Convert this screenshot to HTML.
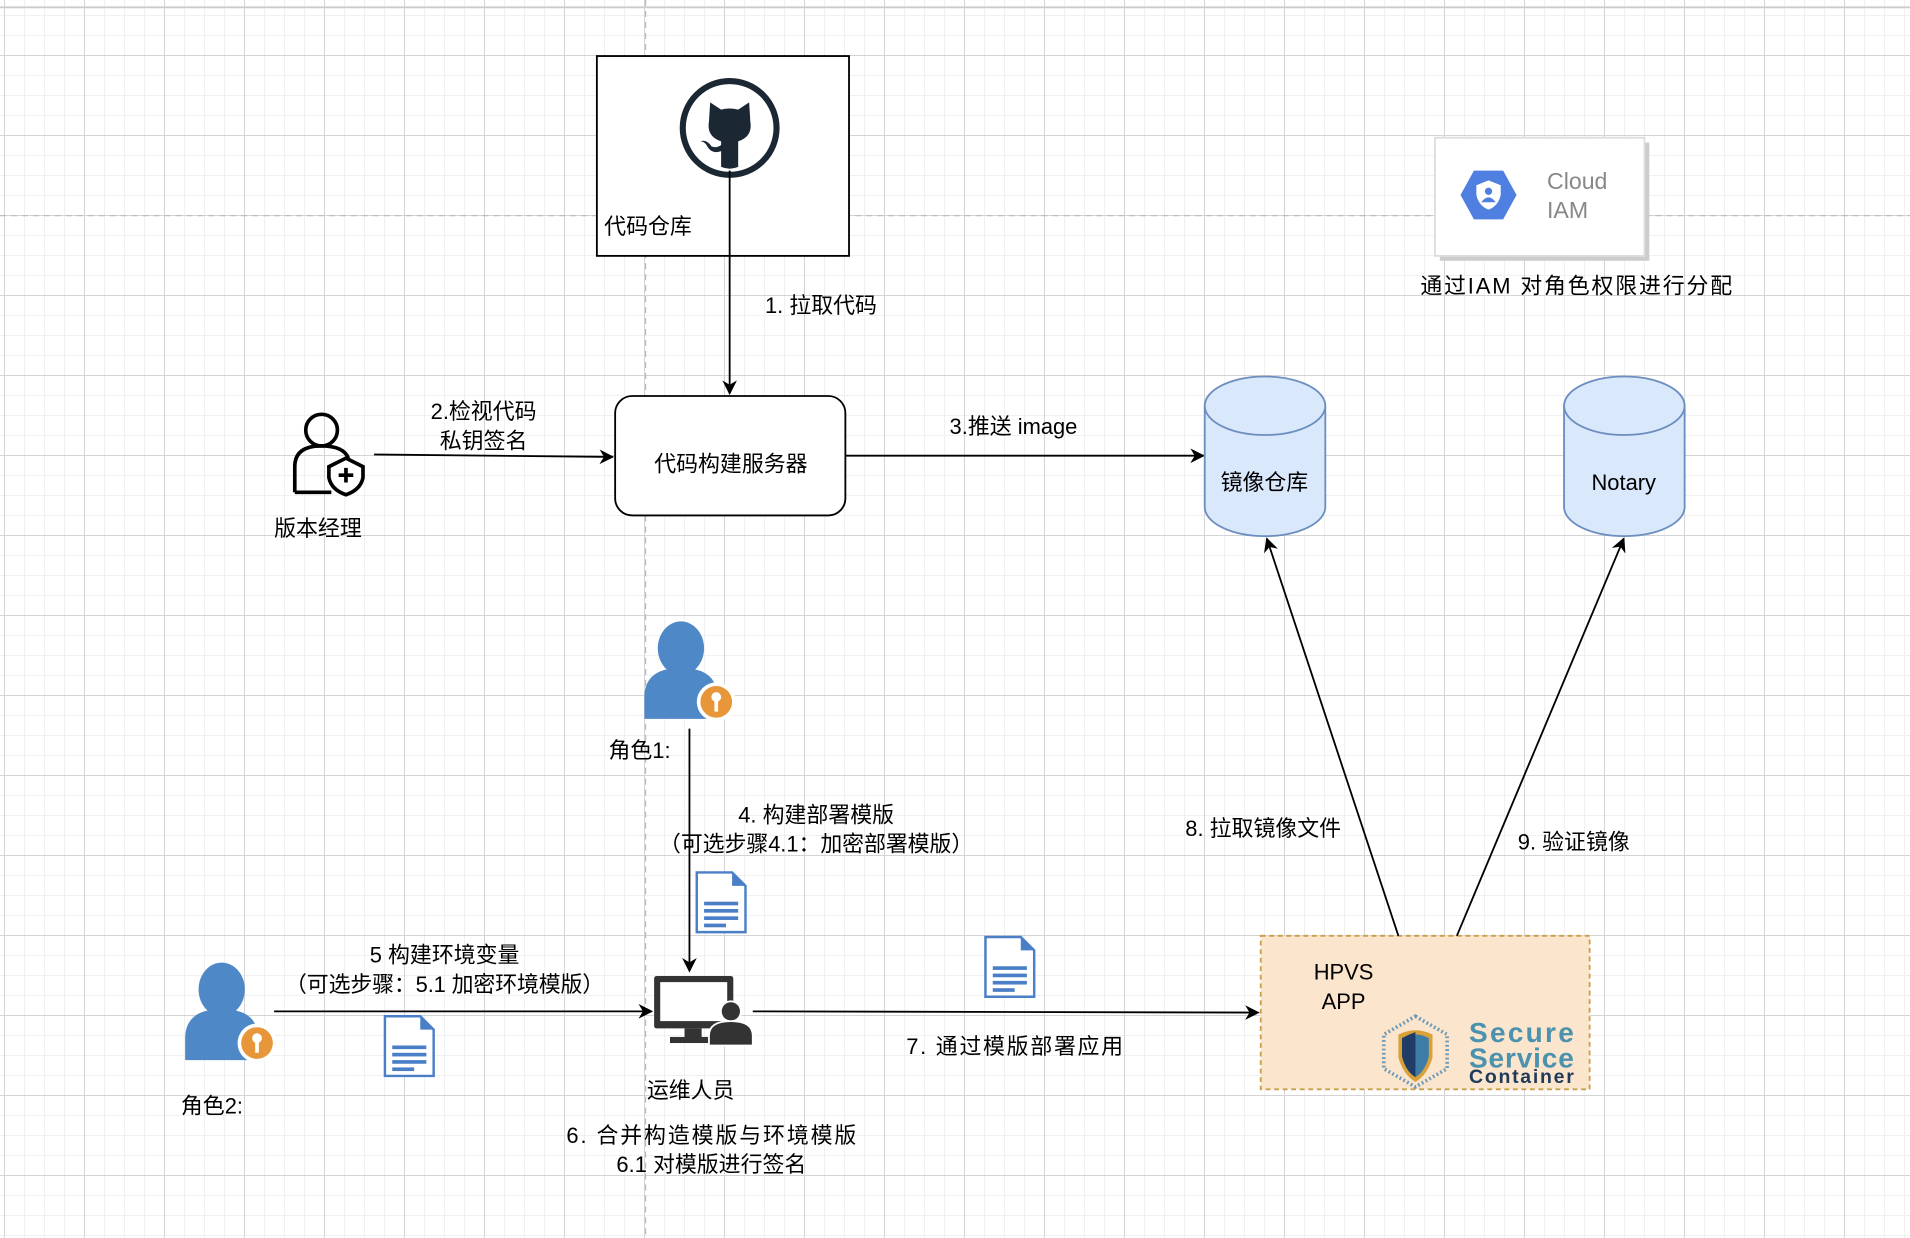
<!DOCTYPE html>
<html><head><meta charset="utf-8"><style>
html,body{margin:0;padding:0;}
body{width:1910px;height:1238px;overflow:hidden;background:#fff;position:relative;
background-image:
linear-gradient(#d4d4d4 1px,transparent 1px),
linear-gradient(90deg,#d4d4d4 1px,transparent 1px),
linear-gradient(#f0f0f0 1px,transparent 1px),
linear-gradient(90deg,#f0f0f0 1px,transparent 1px);
background-size:80px 80px,80px 80px,20px 20px,20px 20px;
background-position:0 55px,4px 0,0 15px,4px 0;}
svg{position:absolute;left:0;top:0;}
text{font-family:"Liberation Sans","Noto Sans CJK SC",sans-serif;fill:#000;}
</style></head><body>
<svg width="1910" height="1238" viewBox="0 0 1568 1016" preserveAspectRatio="none">
<defs>
<marker id="ar" viewBox="0 0 10 10" refX="9" refY="5" markerWidth="12" markerHeight="12" markerUnits="userSpaceOnUse" orient="auto">
<path d="M0,0 L10,5 L0,10 L3,5 Z" fill="#000"/></marker>
<g id="bp">
<ellipse cx="31" cy="22" rx="19" ry="22" fill="#4f88c6"/>
<path d="M1 80 V62 C1 46 12 40 22 39 Q31 45 40 39 C50 40 61 46 61 62 V80 Z" fill="#4f88c6"/>
<circle cx="60" cy="66" r="16" fill="#fff"/>
<circle cx="60" cy="66" r="13" fill="#e8963a"/>
<circle cx="60" cy="62" r="4" fill="#fff"/>
<rect x="58.5" y="63" width="3" height="11" fill="#fff"/>
</g>
<g id="doc">
<path d="M1 1 H30 L41 12 V50 H1 Z" fill="#fff" stroke="#4a7fc8" stroke-width="2"/>
<path d="M30 1 V12 H41 Z" fill="#4a7fc8"/>
<rect x="7" y="25" width="28" height="3" fill="#4a7fc8"/>
<rect x="7" y="31" width="28" height="3" fill="#4a7fc8"/>
<rect x="7" y="37" width="28" height="3" fill="#4a7fc8"/>
<rect x="7" y="43" width="18" height="3" fill="#4a7fc8"/>
</g>
</defs>
<line x1="0" y1="6" x2="1568" y2="6" stroke="#ccc" stroke-width="1.5"/>
<line x1="0" y1="177" x2="1568" y2="177" stroke="#bbb" stroke-dasharray="5,4"/>
<line x1="530" y1="0" x2="530" y2="1016" stroke="#bbb" stroke-dasharray="5,4"/>

<!-- github box -->
<rect x="490" y="46" width="207" height="164" fill="#fff" stroke="#000" stroke-width="1.5"/>
<circle cx="599" cy="105" r="38.5" fill="#fff" stroke="#1b2733" stroke-width="5"/>
<path d="M582 100 L583 84 L592 90 Q599 88 606 90 L615 84 L616 100 Q618 112 606 116 V137 Q599 140 592 137 V124 Q584 127 580 119 Q578 116 575 116 Q580 114 584 120 Q588 122 592 119 V116 Q580 112 582 100 Z" fill="#1b2733"/>
<text x="496" y="192" font-size="18">代码仓库</text>
<line x1="599" y1="140" x2="599" y2="323" stroke="#000" stroke-width="1.5" marker-end="url(#ar)"/>
<text x="628" y="257" font-size="18">1. 拉取代码</text>

<rect x="505" y="325" width="189" height="98" rx="14" fill="#fff" stroke="#000" stroke-width="1.5"/>
<text x="600" y="387" font-size="18" text-anchor="middle">代码构建服务器</text>
<line x1="694" y1="374" x2="988" y2="374" stroke="#000" stroke-width="1.5" marker-end="url(#ar)"/>
<text x="832" y="356" font-size="18" text-anchor="middle">3.推送 image</text>

<g fill="#dae8fc" stroke="#6c8ebf" stroke-width="1.5">
<path d="M989 333 V416 A49.5 24 0 0 0 1088 416 V333"/>
<ellipse cx="1038.5" cy="333" rx="49.5" ry="24"/>
<path d="M1284 333 V416 A49.5 24 0 0 0 1383 416 V333"/>
<ellipse cx="1333.5" cy="333" rx="49.5" ry="24"/>
</g>
<text x="1038" y="402" font-size="18" text-anchor="middle">镜像仓库</text>
<text x="1333" y="402" font-size="18" text-anchor="middle">Notary</text>

<g fill="none" stroke="#000" stroke-width="3">
<circle cx="264" cy="353" r="13"/>
<path d="M242 404 V383 Q242 366 264 366 Q282 366 286 376"/>
<path d="M242 404 H272"/>
<path d="M284 376 L298 383 V392 Q296 402 284 406 Q272 402 270 392 V383 Z" fill="#fff"/>
<path d="M284 384 V396 M278 390 H290"/>
</g>
<text x="261" y="440" font-size="18" text-anchor="middle">版本经理</text>
<line x1="307" y1="373" x2="503" y2="375" stroke="#000" stroke-width="1.5" marker-end="url(#ar)"/>
<text x="397" y="344" font-size="18" text-anchor="middle">2.检视代码</text>
<text x="397" y="368" font-size="18" text-anchor="middle">私钥签名</text>

<rect x="1182" y="117" width="172" height="97" fill="#ccc"/>
<rect x="1178" y="113" width="172" height="97" fill="#fff" stroke="#ddd" stroke-width="1.5"/>
<path d="M1210 140 H1234 L1245 160 L1234 180 H1210 L1199 160 Z" fill="#4f7fe0"/>
<path d="M1222 148 L1232 152 V160 Q1230 169 1222 172 Q1214 169 1212 160 V152 Z" fill="#fff"/>
<circle cx="1222" cy="157" r="3" fill="#4f7fe0"/>
<path d="M1216 166 Q1222 158 1228 166 Z" fill="#4f7fe0"/>
<text x="1270" y="155" font-size="19" style="fill:#888">Cloud</text>
<text x="1270" y="179" font-size="19" style="fill:#888">IAM</text>
<text x="1294" y="241" font-size="18" text-anchor="middle" textLength="256">通过IAM 对角色权限进行分配</text>

<use href="#bp" x="528" y="510"/>
<text x="525" y="622" font-size="18" text-anchor="middle">角色1:</text>
<line x1="566" y1="598" x2="566" y2="797" stroke="#000" stroke-width="1.5" marker-end="url(#ar)"/>
<text x="670" y="675" font-size="18" text-anchor="middle">4. 构建部署模版</text>
<text x="670" y="699" font-size="18" text-anchor="middle" textLength="258">（可选步骤4.1：加密部署模版）</text>
<use href="#doc" x="571" y="715"/>

<rect x="537" y="801" width="65" height="43" rx="2" fill="#333"/>
<rect x="542" y="806" width="55" height="32" fill="#fff"/>
<rect x="562" y="844" width="14" height="8" fill="#333"/>
<rect x="550" y="851" width="38" height="5" fill="#333"/>
<circle cx="600" cy="830" r="9" fill="#fff"/>
<circle cx="600" cy="830" r="7.5" fill="#333"/>
<path d="M582 858 V850 Q582 838 600 838 Q618 838 618 850 V858 Z" fill="#333" stroke="#fff" stroke-width="1.5"/>
<text x="567" y="901" font-size="18" text-anchor="middle">运维人员</text>

<use href="#bp" x="151" y="790"/>
<text x="174" y="914" font-size="18" text-anchor="middle">角色2:</text>
<line x1="225" y1="830" x2="535" y2="830" stroke="#000" stroke-width="1.5" marker-end="url(#ar)"/>
<text x="365" y="790" font-size="18" text-anchor="middle">5 构建环境变量</text>
<text x="365" y="814" font-size="18" text-anchor="middle" textLength="262">（可选步骤：5.1 加密环境模版）</text>
<use href="#doc" x="315" y="833"/>

<line x1="618" y1="830" x2="1033" y2="831" stroke="#000" stroke-width="1.5" marker-end="url(#ar)"/>
<use href="#doc" x="808" y="768"/>
<text x="833" y="865" font-size="18" text-anchor="middle" textLength="178">7. 通过模版部署应用</text>
<text x="584" y="938" font-size="18" text-anchor="middle" textLength="238">6. 合并构造模版与环境模版</text>
<text x="584" y="962" font-size="18" text-anchor="middle">6.1 对模版进行签名</text>

<rect x="1035" y="768" width="270" height="126" fill="#fbe5cd" stroke="#c9a04a" stroke-width="1.5" stroke-dasharray="4,3"/>
<text x="1103" y="804" font-size="18" text-anchor="middle">HPVS</text>
<text x="1103" y="828" font-size="18" text-anchor="middle">APP</text>
<path d="M1162 834 L1188 849 V877 L1162 892 L1136 877 V849 Z" fill="none" stroke="#6a9ab8" stroke-width="3" stroke-dasharray="1.5,2"/>
<path d="M1148 849 Q1162 842 1176 849 V868 Q1172 882 1162 888 Q1152 882 1148 868 Z" fill="#d9a13a"/>
<path d="M1151 852 Q1162 846 1173 852 V867 Q1170 879 1162 884 Q1154 879 1151 867 Z" fill="#3d7ca6"/>
<path d="M1162 847 V884 Q1154 879 1151 867 V852 Q1156 849 1162 847 Z" fill="#1f3d66"/>
<text x="1206" y="855" font-size="23" font-weight="bold" textLength="86" style="fill:#4a92ae">Secure</text>
<text x="1206" y="876" font-size="23" font-weight="bold" textLength="86" style="fill:#4a92ae">Service</text>
<text x="1206" y="889" font-size="16" font-weight="bold" textLength="86" style="fill:#1f3b5a">Container</text>

<line x1="1148" y1="768" x2="1040" y2="442" stroke="#000" stroke-width="1.5" marker-end="url(#ar)"/>
<line x1="1196" y1="768" x2="1333" y2="442" stroke="#000" stroke-width="1.5" marker-end="url(#ar)"/>
<text x="1037" y="686" font-size="18" text-anchor="middle">8. 拉取镜像文件</text>
<text x="1292" y="697" font-size="18" text-anchor="middle">9. 验证镜像</text>
</svg>
</body></html>
